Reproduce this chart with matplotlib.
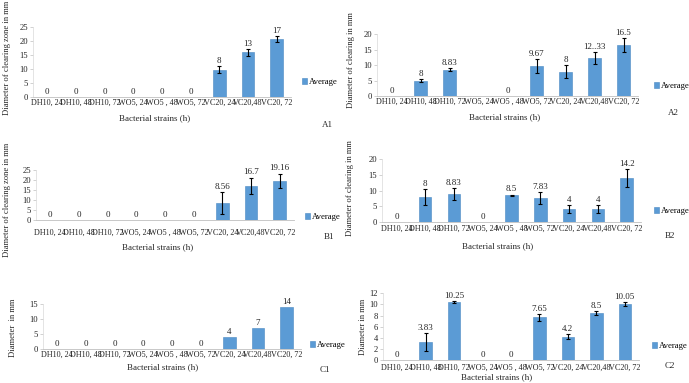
import numpy as np
import matplotlib
matplotlib.use('Agg')
import matplotlib.pyplot as plt

plt.rcParams['font.family'] = ['Liberation Serif', 'DejaVu Serif']

W, H = 689, 383

categories = ['DH10, 24', 'DH10, 48', 'DH10, 72', 'WO5, 24', 'WO5 , 48',
              'WO5, 72', 'VC20, 24', 'VC20,48', 'VC20, 72']

# bar heights as drawn, error bar half-lengths, and the printed data labels
a1_vals = [0, 0, 0, 0, 0, 0, 9.7, 16.0, 20.8]
a1_err = [0, 0, 0, 0, 0, 0, 1.2, 1.2, 1.0]
a1_lbl = ['0', '0', '0', '0', '0', '0', '8', '13', '17']

a2_vals = [0, 5.0, 8.5, 0, 0, 9.6, 7.9, 12.3, 16.5]
a2_err = [0, 0.6, 0.5, 0, 0, 2.3, 2.1, 2.0, 2.2]
a2_lbl = ['0', '8', '8.83', '', '0', '9.67', '8', '12..33', '16.5']

b1_vals = [0, 0, 0, 0, 0, 0, 8.6, 17.0, 19.5]
b1_err = [0, 0, 0, 0, 0, 0, 5.4, 4.2, 3.7]
b1_lbl = ['0', '0', '0', '0', '0', '0', '8.56', '16.7', '19.16']

b2_vals = [0, 7.9, 8.8, 0, 8.4, 7.7, 4.0, 4.0, 14.0]
b2_err = [0, 2.7, 2.0, 0, 0.3, 1.9, 1.2, 1.2, 2.9]
b2_lbl = ['0', '8', '8.83', '0', '8.5', '7.83', '4', '4', '14.2']

c1_vals = [0, 0, 0, 0, 0, 0, 4, 7, 14]
c1_err = [0, 0, 0, 0, 0, 0, 0, 0, 0]
c1_lbl = ['0', '0', '0', '0', '0', '0', '4', '7', '14']

c2_vals = [0, 3.3, 10.4, 0, 0, 7.7, 4.2, 8.5, 10.1]
c2_err = [0, 1.6, 0.2, 0, 0, 0.6, 0.4, 0.35, 0.4]
c2_lbl = ['0', '3.83', '10.25', '0', '0', '7.65', '4.2', '8.5', '10.05']

panels = [
    # name, vals, err, labels, ymax, ystep, ylabel
    ('A1', a1_vals, a1_err, a1_lbl, 25, 5, 'Diameter of clearing zone in mm'),
    ('A2', a2_vals, a2_err, a2_lbl, 20, 5, 'Diameter of clearing in mm'),
    ('B1', b1_vals, b1_err, b1_lbl, 25, 5, 'Diameter of clearing zone in mm'),
    ('B2', b2_vals, b2_err, b2_lbl, 20, 5, 'Diameter of clearing in mm'),
    ('C1', c1_vals, c1_err, c1_lbl, 15, 5, 'Diameter  in mm'),
    ('C2', c2_vals, c2_err, c2_lbl, 12, 2, 'Diameter in mm'),
]

# pixel layout: left, right, top, bottom of plot area; tick pad (pt);
# ylabel x; legend (x, y); panel tag (x, y); xlabel (x, y)
layout = {
    'A1': dict(box=(33, 291, 27.3, 96.7), pad=1.5, yl=(7, 58), leg=(302, 82),
               tag=(322, 125), xl=(155, 118)),
    'A2': dict(box=(377, 638, 34.3, 96.0), pad=1.5, yl=(351, 60), leg=(654, 86),
               tag=(668, 113), xl=(505, 117)),
    'B1': dict(box=(36, 294, 170, 220), pad=6.0, yl=(7, 200), leg=(305, 217),
               tag=(324, 237), xl=(158, 247)),
    'B2': dict(box=(382, 641, 159.3, 221.7), pad=2.5, yl=(350, 188), leg=(654, 211),
               tag=(665, 236), xl=(498, 246)),
    'C1': dict(box=(43, 301, 304, 349), pad=1.5, yl=(13, 328), leg=(310, 345),
               tag=(320, 370), xl=(163, 367)),
    'C2': dict(box=(383, 639, 293.3, 360), pad=2.5, yl=(363, 327), leg=(652, 346),
               tag=(665, 366), xl=(497, 377)),
}

bar_color = '#5B9BD5'
text_color = '#262626'

fig = plt.figure(figsize=(W / 100, H / 100), dpi=100)


def fx(x):
    return x / W


def fy(y):
    return 1 - y / H


x = np.arange(len(categories))

for name, vals, err, lbls, ymax, ystep, ylabel in panels:
    L = layout[name]
    left, right, top, bottom = L['box']
    ax = fig.add_axes([fx(left), fy(bottom), (right - left) / W, (bottom - top) / H])
    bars = ax.bar(x, vals, width=0.44, color=bar_color, edgecolor='#4a88c2',
                  linewidth=0.4, label='Average', zorder=2)
    err = np.array(err)
    has_err = err > 0
    if has_err.any():
        ax.errorbar(x[has_err], np.array(vals)[has_err], yerr=err[has_err], fmt='none',
                    ecolor='black', elinewidth=0.8, capsize=1.6, capthick=0.8, zorder=3)
    for xi, v, e, t in zip(x, vals, err, lbls):
        if t:
            ax.annotate(t, (xi, v + e), xytext=(0, 0.8), textcoords='offset points',
                        ha='center', va='bottom', fontsize=6.5, color=text_color)
    ax.set_xlim(-0.5, len(categories) - 0.5)
    ax.set_ylim(0, ymax)
    ax.set_yticks(np.arange(0, ymax + 0.01, ystep))
    ax.set_xticks(x)
    ax.set_xticklabels(categories, fontsize=5.9, color=text_color)
    ax.tick_params(axis='x', length=0, pad=L['pad'])
    ax.tick_params(axis='y', labelsize=6.2, colors=text_color, length=2, width=0.5, pad=1.5)
    ax.tick_params(axis='y', color='#bfbfbf')
    for s in ['top', 'right']:
        ax.spines[s].set_visible(False)
    ax.spines['left'].set_color('#d9d9d9')
    ax.spines['left'].set_linewidth(0.5)
    ax.spines['bottom'].set_color('#bfbfbf')
    ax.spines['bottom'].set_linewidth(0.6)
    ax.patch.set_alpha(0)

    ax.legend(handles=[bars], labels=['Average'], loc='center left',
              bbox_to_anchor=(fx(L['leg'][0]), fy(L['leg'][1])),
              bbox_transform=fig.transFigure, frameon=False, fontsize=6.2,
              handlelength=0.6, handleheight=0.6, handletextpad=0.2,
              borderpad=0, borderaxespad=0)

    fig.text(fx(L['yl'][0]), fy(L['yl'][1]), ylabel, rotation=90, ha='center',
             va='center', fontsize=6.2, color=text_color)
    fig.text(fx(L['xl'][0]), fy(L['xl'][1]), 'Bacterial strains (h)', ha='center',
             va='center', fontsize=6.5, color=text_color)
    fig.text(fx(L['tag'][0]), fy(L['tag'][1]), name, ha='left', va='center',
             fontsize=6.5, color=text_color)

fig.savefig('out.png', dpi=100)
